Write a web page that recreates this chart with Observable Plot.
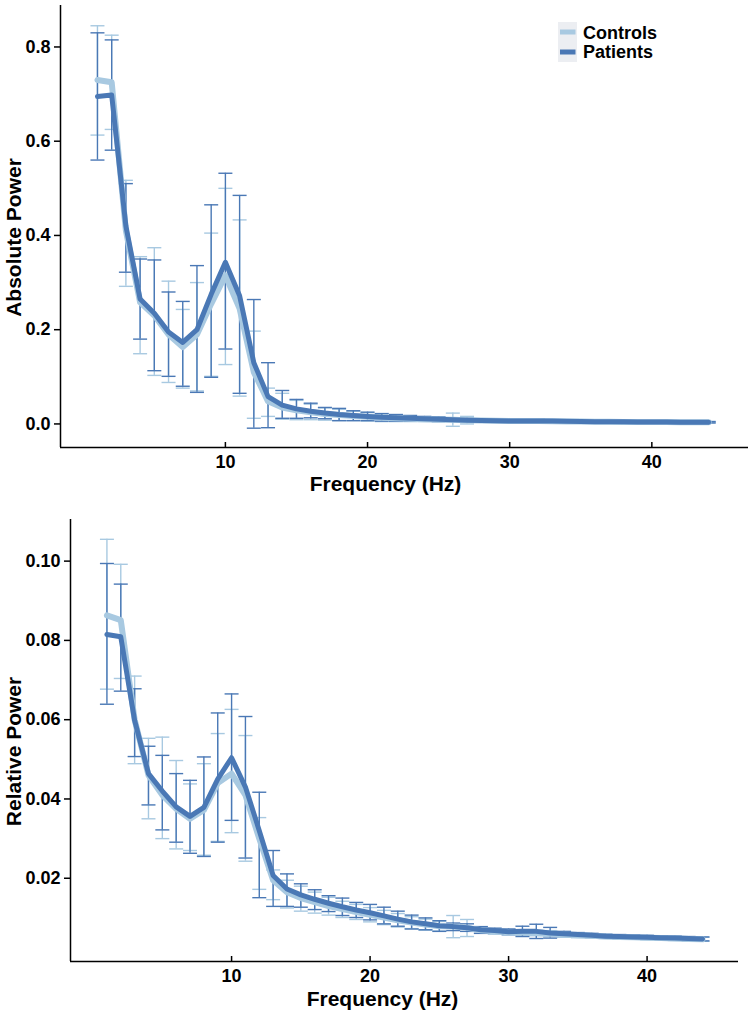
<!DOCTYPE html>
<html><head><meta charset="utf-8">
<script src="https://cdn.jsdelivr.net/npm/d3@7"></script>
<script src="https://cdn.jsdelivr.net/npm/@observablehq/plot@0.6"></script>
<style>
body{margin:0;background:#fff;}
#wrap{position:relative;width:752px;height:1019px;font-family:"Liberation Sans",Arial,sans-serif;}
#wrap > svg{display:block;}
#legend{position:absolute;left:556px;top:20px;}
</style></head><body><div id="wrap"></div>
<script>
// Frequencies (Hz)
const freq = [1,2,3,4,5,6,7,8,9,10,11,12,13,14,15,16,17,18,19,20,21,22,23,24,25,26,27,28,29,30,31,32,33,34,35,36,37,38,39,40,41,42,43,44];
const xTicks = [10,20,30,40];

// Absolute power
const absPat   = [0.695,0.698,0.42,0.265,0.235,0.195,0.173,0.20,0.275,0.343,0.272,0.13,0.058,0.04,0.032,0.027,0.023,0.020,0.018,0.016,0.014,0.013,0.012,0.011,0.010,0.009,0.008,0.0075,0.007,0.0065,0.0065,0.0065,0.006,0.0055,0.005,0.0048,0.0046,0.0044,0.0042,0.0040,0.0039,0.0038,0.0037,0.0036];
const absPatHi = [0.830,0.815,0.51,0.35,0.348,0.28,0.26,0.336,0.465,0.532,0.485,0.264,0.13,0.071,0.052,0.044,0.035,0.033,0.028,0.025,0.022,0.020,0.018,0.016,0.015,0.013,0.012,0.0105,0.010,0.0095,0.0095,0.0105,0.009,0.0075,0.007,0.0066,0.0062,0.006,0.0058,0.0056,0.0054,0.0053,0.0052,0.0051];
const absPatLo = [0.560,0.581,0.322,0.18,0.113,0.101,0.08,0.067,0.099,0.159,0.065,-0.009,-0.008,0.012,0.012,0.013,0.011,0.007,0.007,0.007,0.006,0.006,0.006,0.006,0.005,0.005,0.004,0.0045,0.004,0.0035,0.0035,0.0025,0.003,0.0035,0.003,0.003,0.003,0.0028,0.0026,0.0024,0.0024,0.0023,0.0022,0.0021];
const absCon   = [0.73,0.725,0.41,0.258,0.23,0.19,0.163,0.19,0.255,0.315,0.245,0.11,0.048,0.035,0.029,0.025,0.021,0.019,0.017,0.015,0.013,0.012,0.011,0.010,0.0095,0.009,0.008,0.0075,0.007,0.0065,0.006,0.006,0.0055,0.0052,0.005,0.0047,0.0045,0.0043,0.0041,0.004,0.0039,0.0038,0.0037,0.0036];
const absConHi = [0.845,0.825,0.517,0.355,0.374,0.303,0.243,0.30,0.405,0.50,0.433,0.197,0.076,0.065,0.05,0.042,0.034,0.031,0.027,0.024,0.021,0.019,0.017,0.015,0.014,0.023,0.016,0.011,0.0095,0.009,0.0085,0.0085,0.008,0.007,0.0068,0.0064,0.006,0.0058,0.0056,0.0054,0.0052,0.0051,0.005,0.0049];
const absConLo = [0.613,0.625,0.292,0.149,0.103,0.088,0.076,0.07,0.101,0.126,0.059,0.012,0.016,0.01,0.009,0.009,0.008,0.007,0.007,0.006,0.005,0.005,0.005,0.005,0.005,-0.005,0.0,0.004,0.0045,0.004,0.0035,0.0035,0.003,0.0034,0.0032,0.003,0.003,0.0028,0.0026,0.0026,0.0026,0.0025,0.0024,0.0023];
const absYTicks = [0.0,0.2,0.4,0.6,0.8];

// Relative power
const relPat   = [0.0815,0.0809,0.0598,0.0464,0.042,0.038,0.0356,0.0379,0.045,0.0504,0.043,0.032,0.0207,0.0173,0.0158,0.0147,0.0137,0.0128,0.012,0.0113,0.0105,0.0097,0.009,0.0085,0.008,0.0078,0.0075,0.007,0.0068,0.0065,0.0066,0.0066,0.0062,0.006,0.0058,0.0056,0.0054,0.0053,0.0052,0.0051,0.005,0.0049,0.0048,0.0047];
const relPatHi = [0.0994,0.0942,0.0678,0.0533,0.051,0.0464,0.0447,0.0506,0.0617,0.0665,0.0608,0.0417,0.027,0.0211,0.0186,0.0171,0.0156,0.015,0.0139,0.0134,0.0127,0.0117,0.0107,0.0100,0.0093,0.0087,0.0085,0.0078,0.0074,0.0072,0.0079,0.0084,0.0076,0.0066,0.0063,0.0061,0.0059,0.0058,0.0057,0.0056,0.0055,0.0054,0.0053,0.0052];
const relPatLo = [0.0639,0.0672,0.0507,0.0385,0.0322,0.0291,0.0263,0.0255,0.0291,0.0346,0.0251,0.0151,0.0129,0.0129,0.0127,0.0121,0.0116,0.0106,0.0101,0.0095,0.0085,0.0079,0.0072,0.0070,0.0066,0.0068,0.0066,0.0061,0.0061,0.0058,0.0053,0.0048,0.0049,0.0055,0.0053,0.0051,0.0049,0.0048,0.0047,0.0046,0.0045,0.0044,0.0043,0.0042];
const relCon   = [0.0863,0.0851,0.060,0.046,0.041,0.0375,0.035,0.0372,0.044,0.0464,0.041,0.030,0.0195,0.0165,0.015,0.014,0.013,0.0122,0.0115,0.0108,0.0101,0.0094,0.0088,0.0083,0.0079,0.0078,0.0075,0.0069,0.0066,0.0064,0.0063,0.0062,0.006,0.0058,0.0056,0.0055,0.0053,0.0052,0.0051,0.005,0.0049,0.0048,0.0047,0.0046];
const relConHi = [0.1055,0.0992,0.071,0.0553,0.0556,0.0497,0.0438,0.0489,0.0565,0.0626,0.056,0.0353,0.0221,0.0195,0.018,0.0165,0.0152,0.0142,0.0134,0.0126,0.0119,0.0111,0.0103,0.0097,0.0091,0.0106,0.0096,0.0077,0.0073,0.0071,0.0070,0.0069,0.0068,0.0065,0.0062,0.006,0.0058,0.0057,0.0056,0.0055,0.0054,0.0053,0.0052,0.0051];
const relConLo = [0.0677,0.0704,0.0489,0.035,0.030,0.0274,0.027,0.0258,0.0293,0.0315,0.0243,0.0172,0.0146,0.0125,0.0117,0.0112,0.0107,0.0101,0.0096,0.009,0.0083,0.0077,0.0073,0.0069,0.0067,0.005,0.0053,0.0061,0.0059,0.0057,0.0056,0.0055,0.0053,0.0051,0.005,0.0049,0.0048,0.0047,0.0046,0.0045,0.0044,0.0043,0.0042,0.0041];
const relYTicks = [0.02,0.04,0.06,0.08,0.10];

const groups = ["Controls","Patients"];
const PAT = "#4a78b5", CON = "#a8c9e1";
const FONT = '"Liberation Sans", Arial, Helvetica, sans-serif';
const capSymbol = {draw(ctx){ ctx.moveTo(-7,0); ctx.lineTo(7,0); }};

function rows(m, lo, hi){ return freq.map((f,i)=>({f, m:m[i], lo:lo[i], hi:hi[i]})); }

function errMarks(data, color){
  return [
    Plot.ruleX(data,{x:"f", y1:"lo", y2:"hi", stroke:color, strokeWidth:1.4}),
    Plot.dot(data,{x:"f", y:"hi", symbol:capSymbol, r:3, fill:"none", stroke:color, strokeWidth:1.4}),
    Plot.dot(data,{x:"f", y:"lo", symbol:capSymbol, r:3, fill:"none", stroke:color, strokeWidth:1.4})
  ];
}

function panel(o){
  const con = rows(o.con, o.conLo, o.conHi);
  const pat = rows(o.pat, o.patLo, o.patHi);
  const txt = {fontFamily:FONT, fontWeight:"bold", fill:"#000"};
  return Plot.plot({
    width:752, height:o.height,
    marginLeft:o.ml, marginRight:o.mr, marginTop:o.mt, marginBottom:o.mb,
    style:`font-family:${FONT};font-size:18px;font-weight:bold;color:#000;background:#fff;overflow:visible;`,
    x:{domain:o.xDomain},
    y:{domain:o.yDomain},
    marks:[
      ...errMarks(con, CON),
      ...errMarks(pat, PAT),
      Plot.line(con,{x:"f", y:"m", stroke:CON, strokeWidth:6}),
      Plot.line(pat,{x:"f", y:"m", stroke:PAT, strokeWidth:5}),
      Plot.axisY({ticks:o.yTicks, tickFormat:d3.format(o.fmt), tickSize:6, tickPadding:4, label:null, strokeWidth:1.5, fontSize:18, ...txt}),
      Plot.axisX({ticks:xTicks, tickFormat:d3.format("d"), tickSize:-5, tickPadding:12.5, label:null, strokeWidth:1.5, fontSize:18, ...txt}),
      Plot.ruleX([o.xDomain[0]], {stroke:"#000", strokeWidth:1.5}),
      Plot.ruleY([o.yDomain[0]], {stroke:"#000", strokeWidth:1.5}),
      Plot.text(["Frequency (Hz)"], {frameAnchor:"bottom", textAnchor:"middle", dx:o.xlDx, dy:o.xlDy, fontSize:21, ...txt}),
      Plot.text([o.yLabel], {frameAnchor:"left", textAnchor:"middle", rotate:-90, dx:o.ylDx, dy:11, fontSize:21, ...txt})
    ]
  });
}

const wrap = document.getElementById("wrap");
wrap.append(panel({
  con:absCon, conLo:absConLo, conHi:absConHi,
  pat:absPat, patLo:absPatLo, patHi:absPatHi,
  height:510, ml:60, mr:4, mt:5, mb:63,
  xDomain:[-1.6, 46.8], yDomain:[-0.05, 0.888], yTicks:absYTicks, fmt:".1f",
  yLabel:"Absolute Power", xlDx:-19, xlDy:43, ylDx:-46
}));
wrap.append(panel({
  con:relCon, conLo:relConLo, conHi:relConHi,
  pat:relPat, patLo:relPatLo, patHi:relPatHi,
  height:509, ml:70, mr:14, mt:9, mb:58,
  xDomain:[-1.63, 46.6], yDomain:[-0.001, 0.1105], yTicks:relYTicks, fmt:".2f",
  yLabel:"Relative Power", xlDx:-22, xlDy:44, ylDx:-56.5
}));

// Legend
const leg = d3.select(wrap).append("svg").attr("id","legend").attr("width",130).attr("height",46)
  .style("font-family", FONT).style("font-weight","bold").style("font-size","18px");
const legColors = [CON, PAT];
groups.forEach((g,i)=>{
  const y0 = i===0 ? 2 : 23, h = i===0 ? 21 : 19;
  leg.append("rect").attr("x",2).attr("y",y0).attr("width",19).attr("height",h).attr("fill","#eceef2");
  leg.append("line").attr("x1",4).attr("x2",19.5).attr("y1",12+20*i).attr("y2",12+20*i)
    .attr("stroke",legColors[i]).attr("stroke-width",5);
  leg.append("text").attr("x",27).attr("y",19.3+19*i).attr("fill","#000").text(g);
});
</script>
</body></html>
